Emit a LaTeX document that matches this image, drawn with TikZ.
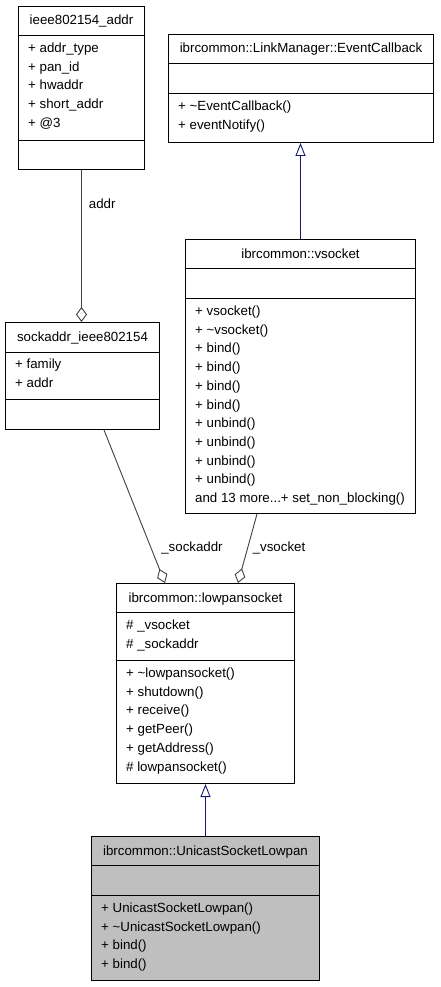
\documentclass[tikz,border=0pt]{standalone}
\usepackage{fontspec}
\setmainfont{Liberation Sans}
\usetikzlibrary{positioning, calc, arrows.meta}
\definecolor{edgegray}{HTML}{404040}
\definecolor{inheritblue}{HTML}{191970}
\definecolor{focusgray}{HTML}{BFBFBF}
\newcommand{\dxfont}{\fontsize{13.3}{16}\selectfont}
\newcommand{\moremembers}{and 13 more...+ set\_non\_blocking()}
\tikzset{
	classpart/.style={
			shape=rectangle,
			draw=black,
			line width=1pt,
			anchor=north west,
			inner sep=0pt,
			fill=white
		},
	focuspart/.style={
			classpart,
			fill=focusgray
		}
}
\tikzset{
	membertext/.style={
			anchor=base west,
			inner sep=0pt,
			font=\dxfont
		},
	titletext/.style={
			anchor=base,
			inner sep=0pt,
			font=\dxfont
		},
	edgelabel/.style={
			anchor=base,
			inner sep=0pt,
			font=\dxfont
		},
	usesedge/.style={
			draw=edgegray,
			line width=0.9pt,
			-{Diamond[open, length=15pt, width=11pt]}
		},
	inheritedge/.style={
			draw=inheritblue,
			line width=0.9pt,
			-{Triangle[open, length=13pt, width=10pt]}
		}
}

\begin{document}
\begin{tikzpicture}[x=1pt, y=-1pt]
  \useasboundingbox (0,0) rectangle (440,987);

  % ieee802154_addr
  \node[classpart, minimum width=126pt, minimum height=29pt] (ieeet) at (18,6) {};
  \node[classpart, minimum width=126pt, minimum height=105pt] (ieeea) at (18,35) {};
  \node[classpart, minimum width=126pt, minimum height=29pt] (ieeeo) at (18,140) {};
  \node[titletext] at ($(ieeet.north)+(0,19)$) {ieee802154\_addr};
  \foreach \m [count=\i from 0] in {+ addr\_type, + pan\_id, + hwaddr, + short\_addr, + @3}
    \node[membertext] at ($(ieeea.north west)+(10,17.5+18.7*\i)$) {\m};

  % ibrcommon::LinkManager::EventCallback
  \node[classpart, minimum width=265pt, minimum height=29pt] (evt) at (168,34) {};
  \node[classpart, minimum width=265pt, minimum height=30pt] (eva) at (168,63) {};
  \node[classpart, minimum width=265pt, minimum height=49pt] (evo) at (168,93) {};
  \node[titletext] at ($(evt.north)+(0,19)$) {ibrcommon::LinkManager::EventCallback};
  \foreach \m [count=\i from 0] in {+ \textasciitilde EventCallback(), + eventNotify()}
    \node[membertext] at ($(evo.north west)+(10,17.5+18.7*\i)$) {\m};

  % sockaddr_ieee802154
  \node[classpart, minimum width=154pt, minimum height=30pt] (sockt) at (5,322) {};
  \node[classpart, minimum width=154pt, minimum height=47pt] (socka) at (5,352) {};
  \node[classpart, minimum width=154pt, minimum height=30pt] (socko) at (5,399) {};
  \node[titletext] at ($(sockt.north)+(0,19.5)$) {sockaddr\_ieee802154};
  \foreach \m [count=\i from 0] in {+ family, + addr}
    \node[membertext] at ($(socka.north west)+(10,16.5+18.7*\i)$) {\m};

  % ibrcommon::vsocket
  \node[classpart, minimum width=230pt, minimum height=29pt] (vsockt) at (185,239) {};
  \node[classpart, minimum width=230pt, minimum height=30pt] (vsocka) at (185,268) {};
  \node[classpart, minimum width=230pt, minimum height=215pt] (vsocko) at (185,298) {};
  \node[titletext] at ($(vsockt.north)+(0,19)$) {ibrcommon::vsocket};
  \foreach \m [count=\i from 0] in {+ vsocket(), + \textasciitilde vsocket(), + bind(), + bind(), + bind(), + bind(),
      + unbind(), + unbind(), + unbind(), + unbind(), \moremembers}
    \node[membertext] at ($(vsocko.north west)+(10,17.5+18.7*\i)$) {\m};

  % ibrcommon::lowpansocket
  \node[classpart, minimum width=178pt, minimum height=29pt] (lowt) at (116,583) {};
  \node[classpart, minimum width=178pt, minimum height=48pt] (lowa) at (116,612) {};
  \node[classpart, minimum width=178pt, minimum height=123pt] (lowo) at (116,660) {};
  \node[titletext] at ($(lowt.north)+(0,19)$) {ibrcommon::lowpansocket};
  \foreach \m [count=\i from 0] in {\# \_vsocket, \# \_sockaddr}
    \node[membertext] at ($(lowa.north west)+(10,17.5+18.7*\i)$) {\m};
  \foreach \m [count=\i from 0] in {+ \textasciitilde lowpansocket(), + shutdown(), + receive(), + getPeer(),
      + getAddress(), \# lowpansocket()}
    \node[membertext] at ($(lowo.north west)+(10,17.5+18.7*\i)$) {\m};

  % ibrcommon::UnicastSocketLowpan
  \node[focuspart, minimum width=228pt, minimum height=29pt] (unit) at (91,836) {};
  \node[focuspart, minimum width=228pt, minimum height=30pt] (unia) at (91,865) {};
  \node[focuspart, minimum width=228pt, minimum height=85pt] (unio) at (91,895) {};
  \node[titletext] at ($(unit.north)+(0,19)$) {ibrcommon::UnicastSocketLowpan};
  \foreach \m [count=\i from 0] in {+ UnicastSocketLowpan(), + \textasciitilde UnicastSocketLowpan(), + bind(), + bind()}
    \node[membertext] at ($(unio.north west)+(10,17.5+18.7*\i)$) {\m};

  % connectors
  \draw[usesedge] (ieeeo.south) -- (ieeeo.south |- sockt.north)
    node[pos=0.22, right=7pt, inner sep=0pt, font=\dxfont] (addrlbl) {addr};
  \draw[inheritedge] (vsockt.north) -- (vsockt.north |- evo.south);
  \draw[usesedge] ($(socko.south west)+(99,0)$) -- ($(lowt.north west)+(49,0)$);
  \draw[usesedge] ($(vsocko.south west)+(72,0)$) -- ($(lowt.north west)+(122,0)$);
  \node[edgelabel] (sockaddrlbl) at (192,551.5) {\_sockaddr};
  \node[edgelabel] (vsocketlbl) at (279,551.5) {\_vsocket};
  \draw[inheritedge] (unit.north) -- (unit.north |- lowo.south);

\end{tikzpicture}
\end{document}
